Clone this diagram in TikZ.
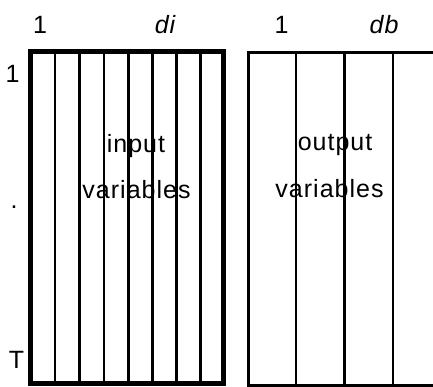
\documentclass[tikz,border=0pt]{standalone}
\usepackage{fontspec}
\setmainfont[LetterSpace=4]{Liberation Sans}
\begin{document}
\begin{tikzpicture}[x=1pt,y=-1pt,
  lbl/.style={inner sep=0pt,anchor=base,font=\fontsize{25}{25}\selectfont},
  thickbox/.style={line width=5pt},
  col/.style={line width=2.6pt},
  thinbox/.style={line width=3pt}]
\useasboundingbox (0,0) rectangle (433,386);
% input matrix
\draw[thickbox] (30.5,51) rectangle (223,383.5);
\foreach \x in {55,79.5,104,128.5,152.5,176.5,200.5}
  \draw[col] (\x,51) -- (\x,383.5);
% output matrix
\draw[thinbox] (440,52) -- (248,52) -- (248,385) -- (440,385);
\foreach \x in {296,344.5,393}
  \draw[col] (\x,52) -- (\x,385);
% labels
\node[lbl] (c1) at (40,33) {1};
\node[lbl] (di) at (165,33) {\itshape di};
\node[lbl] (o1) at (281.5,33) {1};
\node[lbl] (db) at (384,33) {\itshape db};
\node[lbl] (r1) at (12.5,82) {1};
\node[lbl] (rdot) at (14,208) {.};
\node[lbl] (rT) at (16.5,368) {T};
\node[lbl] (in1) at (136,152) {input};
\node[lbl] (in2) at (136.5,198) {variables};
\node[lbl] (out1) at (335,150) {output};
\node[lbl] (out2) at (329.5,197) {variables};
\end{tikzpicture}
\end{document}
